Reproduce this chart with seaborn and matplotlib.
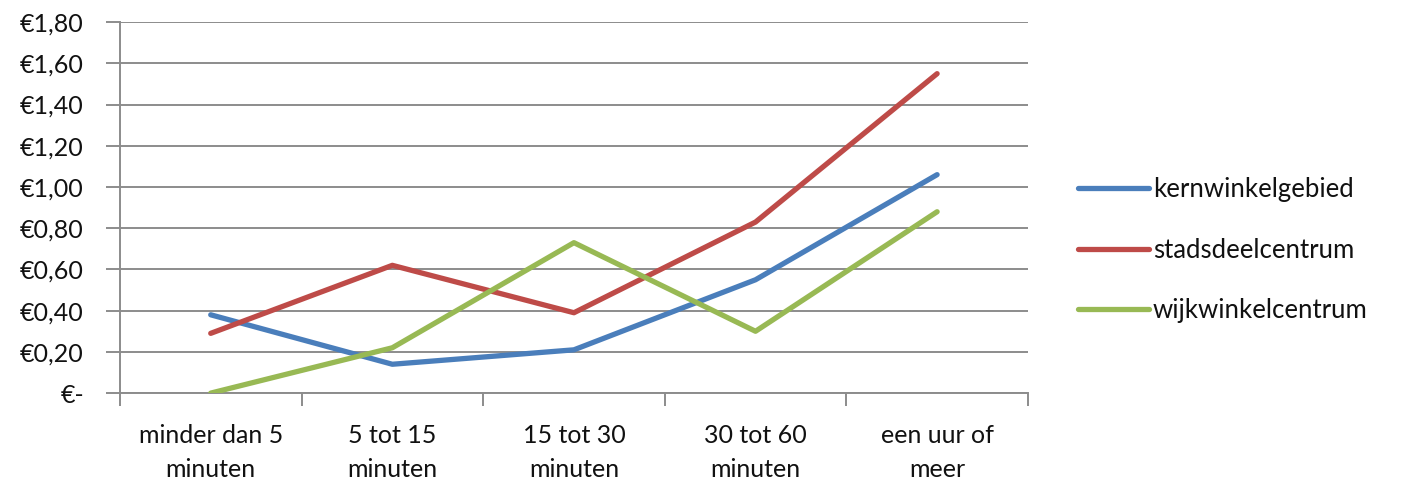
import matplotlib
matplotlib.use("Agg")
import matplotlib.pyplot as plt
from matplotlib.ticker import FuncFormatter, FixedLocator, MultipleLocator
from matplotlib.lines import Line2D
import numpy as np
import pandas as pd
import seaborn as sns

categories = ["minder dan 5\nminuten", "5 tot 15\nminuten", "15 tot 30\nminuten",
              "30 tot 60\nminuten", "een uur of\nmeer"]
kernwinkelgebied = [0.38, 0.14, 0.21, 0.55, 1.06]
stadsdeelcentrum = [0.29, 0.62, 0.39, 0.83, 1.55]
wijkwinkelcentrum = [0.00, 0.22, 0.73, 0.30, 0.88]
series_names = ["kernwinkelgebied", "stadsdeelcentrum", "wijkwinkelcentrum"]
colors = ["#4A7EBB", "#BE4B48", "#98B954"]

rows = []
for name, vals in zip(series_names, [kernwinkelgebied, stadsdeelcentrum, wijkwinkelcentrum]):
    for i, v in enumerate(vals):
        rows.append({"pos": i, "waarde": v, "gebied": name})
df = pd.DataFrame(rows)

sns.set_theme(style="white")
plt.rcParams["font.family"] = ["Lato", "DejaVu Sans"]

fig = plt.figure(figsize=(14.11, 4.92), dpi=100)
ax = fig.add_axes([0.085, 0.201, 0.6435, 0.754])

grid_c = "#8C8C8C"
text_c = "#111111"
sns.lineplot(data=df, x="pos", y="waarde", hue="gebied", palette=colors,
             hue_order=series_names, linewidth=3.8, sort=False, ax=ax,
             legend=False, solid_capstyle="round", solid_joinstyle="round", zorder=3)

ax.set_xlim(-0.5, len(categories) - 0.5)
ax.set_ylim(0, 1.8)
ax.yaxis.set_major_locator(MultipleLocator(0.2))
ax.yaxis.set_major_formatter(FuncFormatter(
    lambda v, p: "€-" if abs(v) < 1e-9 else "€" + f"{v:.2f}".replace(".", ",")))
ax.grid(axis="y", color=grid_c, linewidth=1.4, zorder=0)
ax.set_axisbelow(True)

ax.set_xticks(range(len(categories)))
ax.set_xticklabels(categories, linespacing=1.6)
ax.xaxis.set_minor_locator(FixedLocator(np.arange(-0.5, len(categories), 1.0)))
ax.tick_params(axis="x", which="major", length=0, pad=22, labelsize=18, colors=text_c)
ax.tick_params(axis="x", which="minor", length=9, width=1.4, color=grid_c, direction="out", bottom=True)
ax.tick_params(axis="y", length=10, width=1.4, color=grid_c, pad=16, labelsize=18,
               colors=text_c, left=True)

for side in ["top", "right"]:
    ax.spines[side].set_visible(False)
for side in ["left", "bottom"]:
    ax.spines[side].set_color(grid_c)
    ax.spines[side].set_linewidth(1.4)

ax.set_xlabel("")
ax.set_ylabel("")

handles = [Line2D([0], [0], color=c, linewidth=3.8, solid_capstyle="round") for c in colors]
leg = fig.legend(handles, series_names, loc="center left", bbox_to_anchor=(0.757, 0.491),
                 frameon=False, fontsize=18.5, handlelength=2.75, handletextpad=0.15,
                 labelspacing=1.38, borderaxespad=0)
for t in leg.get_texts():
    t.set_color(text_c)

fig.savefig("out.png", dpi=100, facecolor="white")
